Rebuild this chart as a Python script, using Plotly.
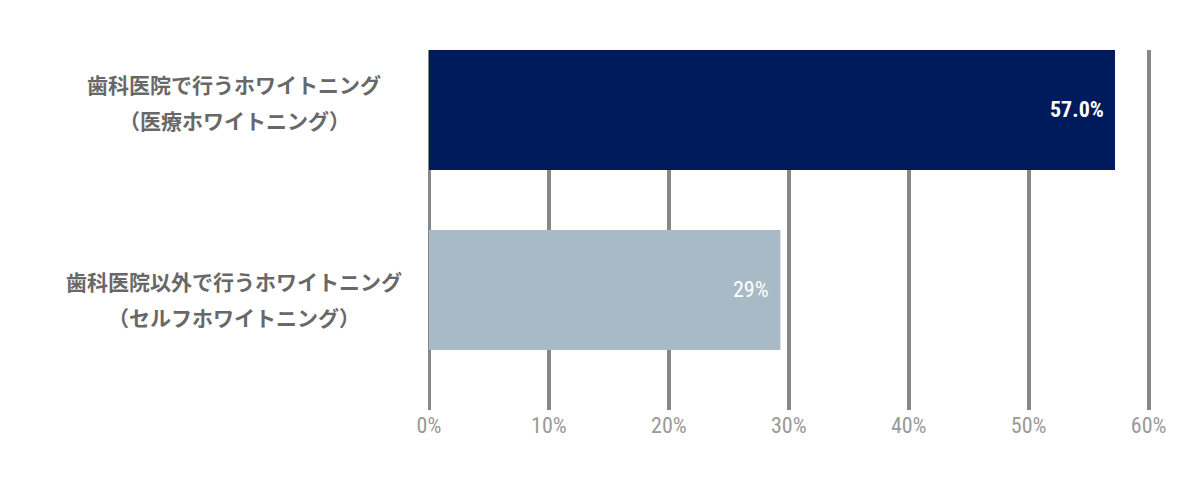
import plotly.graph_objects as go

# chart data
categories = ["medical", "self"]
label_line1 = ["歯科医院で行うホワイトニング", "歯科医院以外で行うホワイトニング"]
label_line2 = ["（医療ホワイトニング）", "（セルフホワイトニング）"]
values = [57.2, 29.3]
value_labels = ["57.0%", "29%"]
tick_vals = [0, 10, 20, 30, 40, 50, 60]
tick_labels = ["0%", "10%", "20%", "30%", "40%", "50%", "60%"]
bar_colors = ["#001b5b", "#a8bac6"]
label_weights = ["bold", "normal"]

# vertical offsets of the two-line category labels (px, relative to bar centre)
label_shifts = [(26, -10), (9, -27)]

NUM_FONT = "Roboto Condensed, Roboto, sans-serif"

fig = go.Figure(
    go.Bar(
        y=categories,
        x=values,
        orientation="h",
        marker=dict(color=bar_colors, line=dict(width=0)),
        width=0.667,
        hoverinfo="skip",
    )
)

annotations = []
for cat, v, txt, w in zip(categories, values, value_labels, label_weights):
    annotations.append(dict(
        x=v, y=cat, xref="x", yref="y", text=txt, showarrow=False,
        xanchor="right", xshift=-9,
        font=dict(family=NUM_FONT, size=22, color="white", weight=w),
    ))
for cat, l1, l2, (s1, s2) in zip(categories, label_line1, label_line2, label_shifts):
    for txt, s in ((l1, s1), (l2, s2)):
        annotations.append(dict(
            x=-0.27, y=cat, xref="paper", yref="y", text=txt, showarrow=False,
            xanchor="center", yshift=s,
            font=dict(family="Noto Sans CJK JP", size=21, color="#686868", weight="bold"),
        ))

# page body has an 8px margin, so the margins are trimmed by that much;
# range goes a bit past 60 so the last grid line is drawn
fig.update_layout(
    width=1200,
    height=480,
    margin=dict(l=421, r=57, t=42, b=78),
    paper_bgcolor="white",
    plot_bgcolor="white",
    showlegend=False,
    annotations=annotations,
    xaxis=dict(
        range=[0, 60.2],
        tickmode="array",
        tickvals=tick_vals,
        ticktext=tick_labels,
        showgrid=True,
        gridcolor="#888888",
        gridwidth=4,
        zeroline=True,
        zerolinecolor="#888888",
        zerolinewidth=3,
        showline=False,
        ticks="",
        tickfont=dict(family=NUM_FONT, size=22, color="#999999"),
    ),
    yaxis=dict(
        range=[1.667, -0.333],
        showticklabels=False,
        showgrid=False,
        zeroline=False,
    ),
)

fig.write_html("out.html")
